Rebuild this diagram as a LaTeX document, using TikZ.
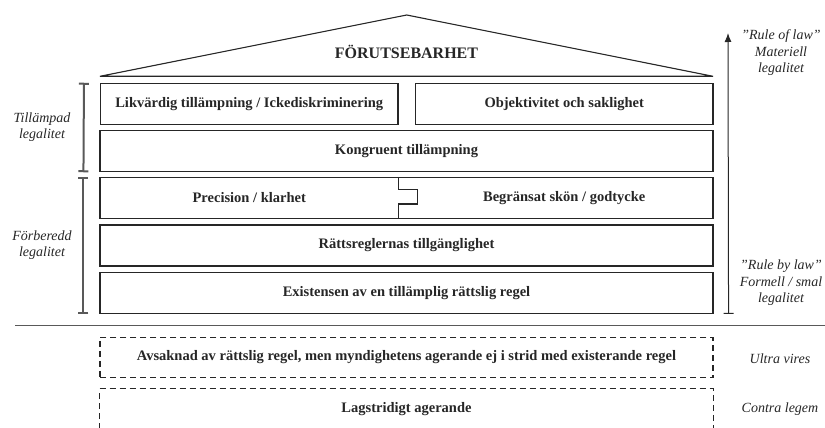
\documentclass[tikz,border=0pt]{standalone}
\usepackage{fontspec}
\setmainfont{Liberation Serif}
\usetikzlibrary{arrows.meta}
\definecolor{mgrey}{rgb}{0.15, 0.15, 0.15}
\definecolor{lgrey}{rgb}{0.35, 0.35, 0.35}
\tikzset{block/.style = {draw = mgrey, line width = 1.1pt, inner sep = 0, minimum width = 613, minimum height = 41, text = mgrey, font = \bfseries\fontsize{14.5}{16}\selectfont}}
\tikzset{half/.style = {block, minimum width = 297.5}}
\tikzset{dbox/.style = {block, minimum height = 40.4, dash pattern = on 6pt off 4pt}}
\tikzset{lab/.style = {align = center, text = mgrey, font = \itshape\fontsize{14}{16.5}\selectfont}}
\tikzset{brack/.style = {draw = lgrey, line width = 2pt, {Bar[width = 10pt]}-{Bar[width = 10pt]}}}

\begin{document}
\begin{tikzpicture}[x = 1pt, y = -1pt]
      \useasboundingbox (0, 0) rectangle (825, 428);

      \coordinate (rl) at (100, 76.3);
      \coordinate (rt) at (406.7, 15);
      \coordinate (rr) at (713, 76.3);
      \draw [mgrey, line width = 1.1pt] (rl) -- (rt) -- (rr) -- cycle;
      \node [text = mgrey, font = \bfseries\fontsize{16}{18}\selectfont] (tak) at (406.5, 52) {FÖRUTSEBARHET};

      \node [half] (likv) at (249.25, 103.8) {Likvärdig tillämpning / Ickediskriminering};
      \node [half] (obj) at (564.25, 103.8) {Objektivitet och saklighet};
      \node [block] (kongr) at (406.5, 151.2) {Kongruent tillämpning};
      \node [block] (prow) at (406.5, 197.8) {};
      \node [block, draw = none] (prec) at (249.25, 197.8) {Precision / klarhet};
      \node [block, draw = none] (begr) at (564.25, 197.8) {Begränsat skön / godtycke};
      \draw [mgrey, line width = 1.1pt] (prow.north -| likv.east) -- ++(0, 12.7) -- ++(18.5, 0)
        -- ++(0, 14.5) -- ++(-18.5, 0) -- (prow.south -| likv.east);
      \node [block] (ratt) at (406.5, 245.5) {Rättsreglernas tillgänglighet};
      \node [block] (exist) at (406.5, 292.8) {Existensen av en tillämplig rättslig regel};

      \draw [brack] ([xshift = -16] likv.north west) -- ([xshift = -16] kongr.south west);
      \draw [brack] ([xshift = -16] prow.north west) -- ([xshift = -16] exist.south west);
      \node [lab] (till) at (42, 127) {Tillämpad\\legalitet};
      \node [lab] (forb) at (42, 245) {Förberedd\\legalitet};

      \coordinate (pil) at (728, 33);
      \draw [mgrey, line width = 1pt, {Bar[width = 10pt]}-{Latex[length = 9pt, width = 7pt]}] ([xshift = 15] exist.south east) -- (pil);
      \node [lab] (rol) at (781, 53) {”Rule of law”\\Materiell\\legalitet};
      \node [lab] (rbl) at (781, 283) {”Rule by law”\\Formell / smal\\legalitet};

      \coordinate (sl) at (15, 325);
      \coordinate (sr) at (825, 325);
      \draw [lgrey, line width = 1pt] (sl) -- (sr);

      \node [dbox] (ultra) at (406.5, 357.5) {Avsaknad av rättslig regel, men myndighetens agerande ej i strid med existerande regel};
      \node [dbox, draw = none, minimum height = 38.7] (lag) at (406.5, 408.7) {Lagstridigt agerande};
      \draw [mgrey, line width = 1.1pt, dash pattern = on 6pt off 4pt] (lag.south west) -- (lag.north west) -- (lag.north east) -- (lag.south east);
      \node [lab] (uv) at (780, 359) {Ultra vires};
      \node [lab] (cl) at (780, 409) {Contra legem};

    \end{tikzpicture}
\end{document}
